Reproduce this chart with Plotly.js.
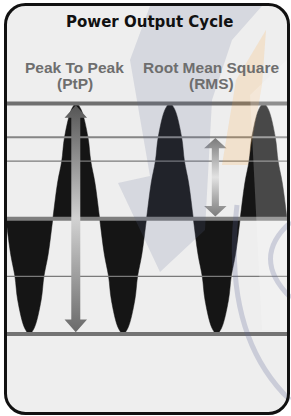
<!DOCTYPE html>
<html>
<head>
<meta charset="utf-8">
<script src="https://cdn.plot.ly/plotly-3.0.1.min.js"></script>
<style>
  html, body { margin: 0; padding: 0; background: #ffffff; }
  #chart { width: 291px; height: 416px; }
</style>
</head>
<body>
<div id="chart"></div>
<script>
// ---- data ----
const titleText = 'Power Output Cycle';
const labelPtP = ['Peak To Peak', '(PtP)'];
const labelRMS = ['Root Mean Square', '(RMS)'];
// one half-cycle of the wave: position within the half-cycle and height (fraction of peak)
const halfCycleX = [0, 0.1, 0.19, 0.25, 0.4, 0.5, 0.6, 0.75, 0.81, 0.9, 1];
const halfCycleY = [0, 0.31, 0.5, 0.707, 0.95, 1, 0.95, 0.707, 0.5, 0.31, 0];
// sign of each half-cycle lobe from left to right (3 full cycles)
const lobeSigns = [-1, 1, -1, 1, -1, 1];
// reference levels (fraction of peak)
const levelValues = [1, 0.707, 0.5, 0, -0.5, -1];
// arrows: [x position in cycles, top value, bottom value]
const ptpArrow = [0.745, 0.985, -0.985];
const rmsArrow = [2.235, 0.70, 0.02];

// ---- build wave ----
const waveX = [], waveY = [];
lobeSigns.forEach((s, i) => {
  halfCycleX.forEach((hx, j) => {
    if (i > 0 && j === 0) return;
    waveX.push((i + hx) * 0.5);
    waveY.push(s * halfCycleY[j]);
  });
});

// ---- styles ----
const levelStyle = {
  '1': {w: 4, c: '#6f6f6f'},
  '0.707': {w: 2, c: '#858585'},
  '0.5': {w: 1.2, c: '#7a7a7a'},
  '0': {w: 4, c: '#7e7e7e'},
  '-0.5': {w: 1.2, c: '#7a7a7a'},
  '-1': {w: 4, c: '#737373'}
};

function arrowTrace(a, hw, sw, hh, scale) {
  const c = a[0], top = a[1], bot = a[2];
  const xs = [c, c + hw, c + sw, c + sw, c + hw, c, c - hw, c - sw, c - sw, c - hw, c];
  const ys = [top, top - hh, top - hh, bot + hh, bot + hh, bot, bot + hh, bot + hh, top - hh, top - hh, top];
  return {
    x: xs, y: ys, type: 'scatter', mode: 'lines', fill: 'toself',
    line: {width: 0, color: 'rgba(0,0,0,0)'},
    fillgradient: {type: 'vertical', colorscale: scale},
    hoverinfo: 'skip', showlegend: false
  };
}

const traces = [];
traces.push({
  x: waveX, y: waveY, type: 'scatter', mode: 'lines',
  line: {color: '#151515', width: 0.5, shape: 'spline', smoothing: 1},
  fill: 'tozeroy', fillcolor: '#151515',
  hoverinfo: 'skip', showlegend: false
});
levelValues.forEach(v => {
  const st = levelStyle[String(v)];
  traces.push({
    x: [0, 3], y: [v, v], type: 'scatter', mode: 'lines',
    line: {color: st.c, width: st.w}, hoverinfo: 'skip', showlegend: false
  });
});
traces.push(arrowTrace(ptpArrow, 0.12, 0.048, 0.11,
  [[0, '#6a6a6a'], [0.5, '#d2d2d2'], [1, '#555555']]));
traces.push(arrowTrace(rmsArrow, 0.12, 0.038, 0.09,
  [[0, '#7c7c7c'], [0.5, '#e2e2e2'], [1, '#7a7a7a']]));

// pixel helpers for paper positions
const W = 291, H = 416;
const PX = p => p / W;
const PY = p => 1 - p / H;

function roundRectPath(x0, y0, x1, y1, r) {
  const k = 0.5523 * r;
  const pts = [
    `M ${PX(x0 + r)} ${PY(y0)}`,
    `L ${PX(x1 - r)} ${PY(y0)}`,
    `C ${PX(x1 - r + k)} ${PY(y0)} ${PX(x1)} ${PY(y0 + r - k)} ${PX(x1)} ${PY(y0 + r)}`,
    `L ${PX(x1)} ${PY(y1 - r)}`,
    `C ${PX(x1)} ${PY(y1 - r + k)} ${PX(x1 - r + k)} ${PY(y1)} ${PX(x1 - r)} ${PY(y1)}`,
    `L ${PX(x0 + r)} ${PY(y1)}`,
    `C ${PX(x0 + r - k)} ${PY(y1)} ${PX(x0)} ${PY(y1 - r + k)} ${PX(x0)} ${PY(y1 - r)}`,
    `L ${PX(x0)} ${PY(y0 + r)}`,
    `C ${PX(x0)} ${PY(y0 + r - k)} ${PX(x0 + r - k)} ${PY(y0)} ${PX(x0 + r)} ${PY(y0)}`,
    'Z'
  ];
  return pts.join(' ');
}
function polyPath(pts) {
  return pts.map((p, i) => (i ? 'L ' : 'M ') + PX(p[0]) + ' ' + PY(p[1])).join(' ') + ' Z';
}
function qPath(a, b, c) {
  return `M ${PX(a[0])} ${PY(a[1])} Q ${PX(b[0])} ${PY(b[1])} ${PX(c[0])} ${PY(c[1])}`;
}

const frame = roundRectPath(5.5, 4.5, 288.5, 413.5, 20);

const shapes = [
  {type: 'path', xref: 'paper', yref: 'paper', path: frame, fillcolor: '#eeeeee',
   line: {width: 0}, layer: 'below'},
  // faint watermark
  {type: 'path', xref: 'paper', yref: 'paper', layer: 'above',
   path: polyPath([[150, 6], [262, 6], [232, 40], [212, 100], [205, 230], [160, 272], [118, 183], [150, 176], [130, 60]]),
   fillcolor: 'rgba(95,105,150,0.17)', line: {width: 0}},
  {type: 'path', xref: 'paper', yref: 'paper', layer: 'above',
   path: polyPath([[222, 165], [236, 80], [266, 30], [262, 85], [248, 165]]),
   fillcolor: 'rgba(255,160,40,0.17)', line: {width: 0}},
  {type: 'path', xref: 'paper', yref: 'paper', layer: 'above',
   path: polyPath([[250, 95], [287, 60], [287, 330], [262, 330]]),
   fillcolor: 'rgba(255,255,255,0.22)', line: {width: 0}},
  {type: 'path', xref: 'paper', yref: 'paper', layer: 'above',
   path: qPath([237, 205], [222, 335], [290, 400]),
   line: {color: 'rgba(95,105,150,0.25)', width: 5}},
  {type: 'path', xref: 'paper', yref: 'paper', layer: 'above',
   path: qPath([291, 222], [250, 258], [291, 298]),
   line: {color: 'rgba(95,105,150,0.25)', width: 5}},
  // frame border
  {type: 'path', xref: 'paper', yref: 'paper', path: frame, line: {color: '#111111', width: 3},
   fillcolor: 'rgba(0,0,0,0)', layer: 'above'}
];

const titleFont = 'DejaVu Sans, Verdana, sans-serif';
const labelFont = 'Liberation Sans, Arial, Helvetica, sans-serif';
const labelColor = '#6e6e6e';
const annotations = [
  {text: '<b>' + titleText + '</b>', x: PX(149), y: PY(22.5), fam: titleFont, size: 15, color: '#111111'},
  {text: '<b>' + labelPtP[0] + '</b>', x: PX(75), y: PY(68), fam: labelFont, size: 15.5, color: labelColor},
  {text: '<b>' + labelPtP[1] + '</b>', x: PX(75), y: PY(83.5), fam: labelFont, size: 15.5, color: labelColor},
  {text: '<b>' + labelRMS[0] + '</b>', x: PX(211), y: PY(68), fam: labelFont, size: 15.5, color: labelColor},
  {text: '<b>' + labelRMS[1] + '</b>', x: PX(211), y: PY(83.5), fam: labelFont, size: 15.5, color: labelColor}
].map(a => ({
  text: a.text, x: a.x, y: a.y, xref: 'paper', yref: 'paper',
  xanchor: 'center', yanchor: 'middle', showarrow: false,
  font: {family: a.fam, size: a.size, color: a.color, weight: 700}
}));

const pxPerCycle = 281 / 3;
const pxPerUnit = 115.3;
const zeroPy = 218.7;

const layout = {
  width: W, height: H,
  margin: {l: 0, r: 0, t: 0, b: 0, pad: 0},
  paper_bgcolor: '#ffffff', plot_bgcolor: 'rgba(0,0,0,0)',
  xaxis: {range: [-6 / pxPerCycle, (W - 6) / pxPerCycle], visible: false, fixedrange: true},
  yaxis: {range: [-(H - zeroPy) / pxPerUnit, zeroPy / pxPerUnit], visible: false, fixedrange: true},
  shapes: shapes,
  annotations: annotations,
  showlegend: false
};

Plotly.newPlot('chart', traces, layout, {staticPlot: true, displayModeBar: false});
</script>
</body>
</html>
